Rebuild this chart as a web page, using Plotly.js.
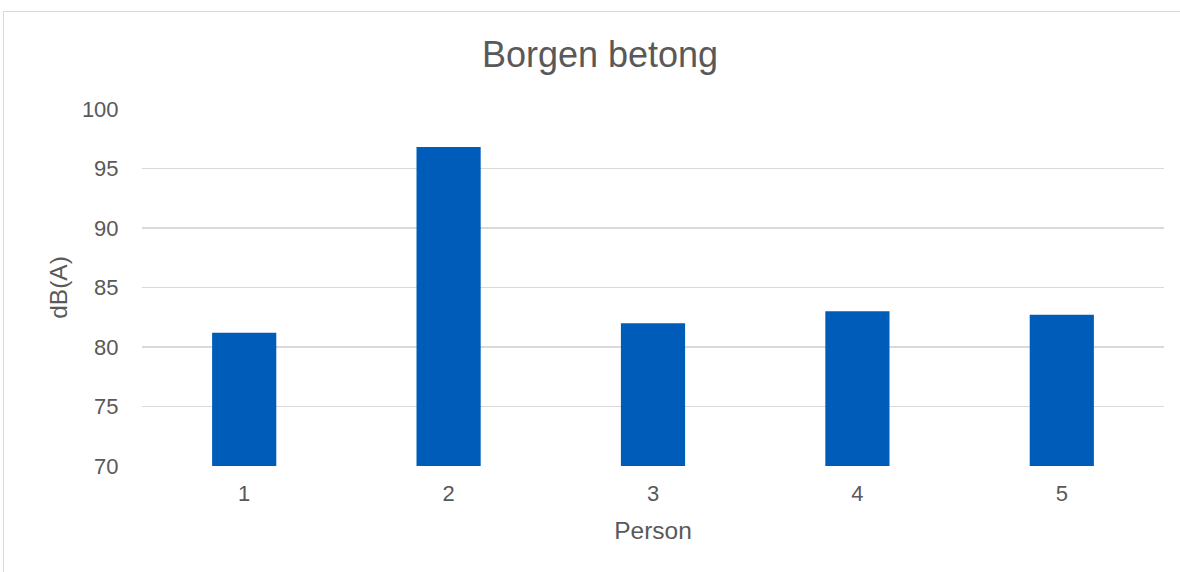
<!DOCTYPE html>
<html>
<head>
<meta charset="utf-8">
<script src="https://cdn.plot.ly/plotly-3.0.1.min.js"></script>
<style>
  html, body { margin: 0; padding: 0; background: #ffffff; overflow: hidden; }
  #wrap { position: relative; width: 1180px; height: 572px; overflow: hidden; }
  #chart { width: 1180px; height: 572px; }
  #frame {
    position: absolute; left: 3px; top: 11px; width: 1300px; height: 700px;
    border: 1px solid #d9d9d9; pointer-events: none; box-sizing: border-box;
  }
</style>
</head>
<body>
<div id="wrap">
  <div id="chart"></div>
  <div id="frame"></div>
</div>
<script>
// Noise level per person, dB(A)
const persons = ["1", "2", "3", "4", "5"];
const levels = [81.2, 96.8, 82.0, 83.0, 82.7];
const yTicks = [70, 75, 80, 85, 90, 95, 100];

const textColor = "#595959";
const gridColor = "#d9d9d9";
const fontFamily = "Liberation Sans, Arial, sans-serif";

const trace = {
  type: "bar",
  x: persons,
  y: levels,
  marker: { color: "#005cb9" },
  hoverinfo: "x+y"
};

const layout = {
  width: 1180,
  height: 572,
  margin: { l: 141.5, r: 16, t: 108.5, b: 106.3, pad: 0 },
  paper_bgcolor: "#ffffff",
  plot_bgcolor: "#ffffff",
  showlegend: false,
  bargap: 0.686,
  font: { family: fontFamily, color: textColor },
  title: {
    text: "Borgen betong",
    font: { size: 36, color: textColor, family: fontFamily },
    x: 600 / 1180,
    xanchor: "center",
    y: 1 - 54 / 572,
    yanchor: "middle",
    yref: "container",
    xref: "container"
  },
  xaxis: {
    type: "category",
    tickvals: persons,
    ticktext: persons,
    showgrid: false,
    zeroline: false,
    showline: false,
    ticks: "outside",
    ticklen: 8,
    tickcolor: "rgba(0,0,0,0)",
    tickfont: { size: 22, color: textColor },
    title: { text: "Person", font: { size: 24.5, color: textColor }, standoff: 16 },
    fixedrange: true
  },
  yaxis: {
    range: [70, 100],
    tickvals: yTicks,
    ticktext: yTicks.map(String),
    showgrid: true,
    gridcolor: gridColor,
    gridwidth: 1.6,
    zeroline: false,
    showline: false,
    ticks: "outside",
    ticklen: 18,
    tickcolor: "rgba(0,0,0,0)",
    tickfont: { size: 22, color: textColor },
    title: { text: "dB(A)", font: { size: 24.5, color: textColor }, standoff: 7 },
    fixedrange: true
  }
};

Plotly.newPlot("chart", [trace], layout, { displayModeBar: false, staticPlot: true });
</script>
</body>
</html>
